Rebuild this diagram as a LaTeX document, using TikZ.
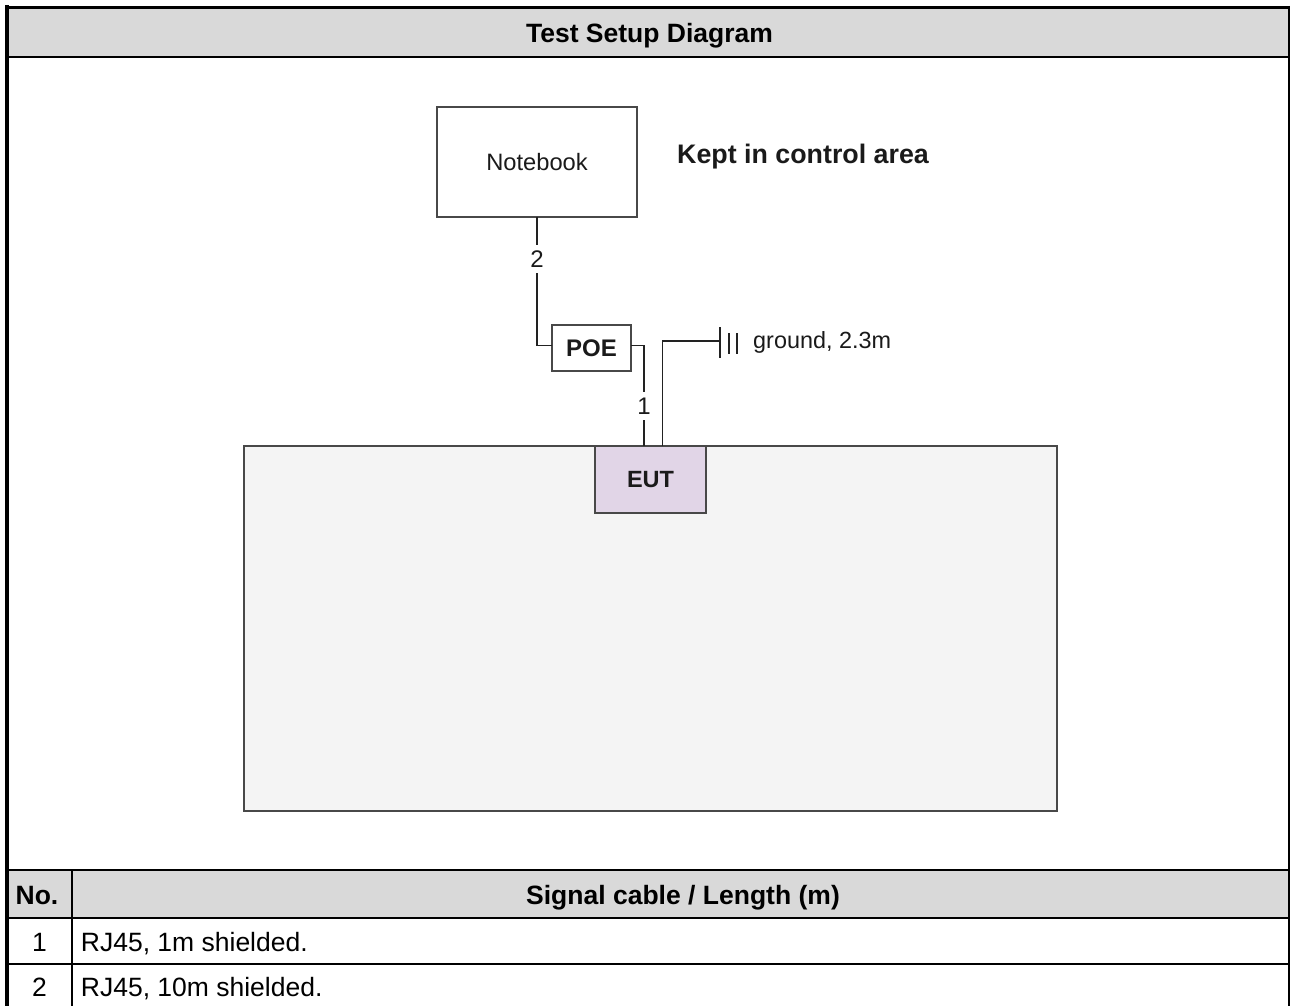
\documentclass[tikz,border=0pt]{standalone}
\usepackage{fontspec}
\setmainfont{Liberation Sans}
\usetikzlibrary{calc}
\definecolor{hdrgray}{HTML}{D9D9D9}
\definecolor{benchgray}{HTML}{F4F4F4}
\definecolor{eutfill}{HTML}{E1D5E7}
\definecolor{edgegray}{HTML}{484848}
\definecolor{wire}{HTML}{222222}
\definecolor{inktext}{HTML}{1A1A1A}

\tikzset{
  tabtext/.style={inner sep=0pt, anchor=base, font=\fontsize{26.5}{30}\selectfont},
  tabhead/.style={inner sep=0pt, anchor=base, font=\fontsize{26.5}{30}\selectfont\bfseries},
  unitbox/.style={draw=edgegray, line width=2pt, fill=white, inner sep=0pt, outer sep=0pt,
                  font=\fontsize{23}{26}\selectfont, text=inktext},
  wireline/.style={draw=wire, line width=1.8pt},
  cablelabel/.style={fill=white, inner xsep=1pt, inner ysep=6pt, text=inktext,
                     font=\fontsize{24}{26}\selectfont},
}

\begin{document}
\begin{tikzpicture}[x=1pt,y=-1pt]
\useasboundingbox (0,0) rectangle (1291,1006);

% table frame and header shading
\fill[hdrgray] (9,9) rectangle (1289,56);
\fill[hdrgray] (9,870) rectangle (1289,917);
\draw[line width=2.6pt] (9,57) -- (1289,57);
\draw[line width=1.2pt] (9,870) -- (1289,870);
\draw[line width=1.8pt] (9,918) -- (1289,918);
\draw[line width=2pt] (9,964.3) -- (1289,964.3);
\draw[line width=1.2pt] (72,870) -- (72,1006);
\draw[line width=1.5pt] (1289,6) -- (1289,1006);
\draw[line width=3.5pt] (5,7.5) -- (1290,7.5);
\draw[line width=4pt] (7,5.5) -- (7,1006);

% table texts
\node[tabhead] (title) at (649.5,42.7) {Test Setup Diagram};
\node[tabhead] (nohead) at (37,904) {No.};
\node[tabhead] (cablehead) at (683,904) {Signal cable / Length (m)};
\node[tabtext] (no1) at (39.5,951) {1};
\node[tabtext, anchor=base west] (cable1) at (80.7,951) {RJ45, 1m shielded.};
\node[tabtext] (no2) at (39.5,996.7) {2};
\node[tabtext, anchor=base west] (cable2) at (80.7,996.7) {RJ45, 10m shielded.};

% test bench
\node[draw=edgegray, line width=2pt, fill=benchgray, inner sep=0pt, outer sep=0pt,
      minimum width=813pt, minimum height=365pt, anchor=north west] (bench) at (244,446) {};

% units
\node[unitbox, minimum width=200pt, minimum height=109.5pt, font=\fontsize{23.7}{26}\selectfont] (nb) at (537,162) {Notebook};
\node[unitbox, minimum width=79pt, minimum height=45.7pt, font=\fontsize{24}{26}\selectfont\bfseries] (poe) at (591.5,347.9) {POE};
\node[unitbox, fill=eutfill, minimum width=111pt, minimum height=67pt, font=\fontsize{23.5}{26}\selectfont\bfseries] (eut) at (650.5,479.5) {EUT};

\node[inner sep=0pt, anchor=base west, text=inktext, font=\fontsize{26.8}{30}\selectfont\bfseries]
  (area) at (677,164) {Kept in control area};

% cables
\draw[wireline] (nb.south) |- node[cablelabel, pos=0.164] (lbl2) {2} ([yshift=2.5pt]poe.west);
\draw[wireline] ([yshift=2.5pt]poe.east) -| node[cablelabel, pos=0.802] (lbl1) {1} ([xshift=-6.5pt]eut.north);

% ground connection
\coordinate (gnd) at (720,341);
\draw[wireline] ([xshift=12pt]eut.north) |- (gnd);
\draw[wireline] (gnd) ++(0,-14) -- ++(0,31);
\draw[wireline] (gnd) ++(9,-8) -- ++(0,21);
\draw[wireline] (gnd) ++(17,-8) -- ++(0,21);
\node[inner sep=0pt, anchor=base west, text=inktext, font=\fontsize{23.4}{26}\selectfont]
  (gndlbl) at (753,348) {ground, 2.3m};
\end{tikzpicture}
\end{document}
